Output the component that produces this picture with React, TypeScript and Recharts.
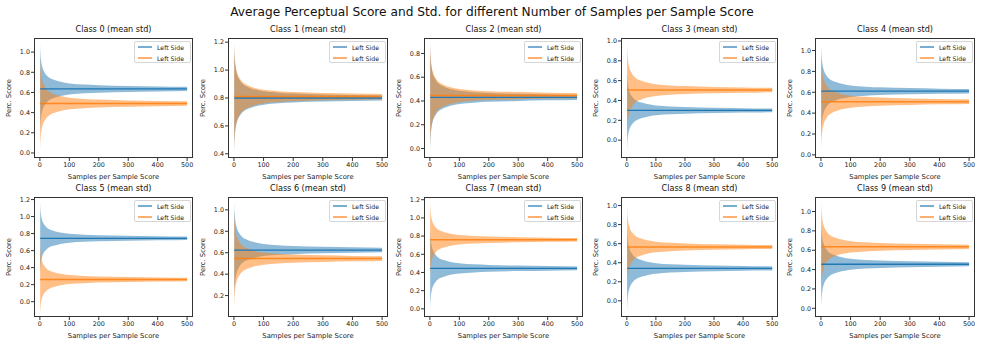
import { ComposedChart, Area, Line, XAxis, YAxis } from 'recharts';

// number of samples used per sample score (x positions of the readings)
const sampleCounts = [1, 2, 3, 5, 8, 12, 18, 25, 35, 50, 70, 100, 150, 200, 300, 400, 500];
// relative half-width of the std band (1 = width at the first sample)
const spreadProfile = [1.0, 0.82, 0.72, 0.6, 0.5, 0.42, 0.35, 0.29, 0.24, 0.2, 0.16, 0.125, 0.1, 0.085, 0.068, 0.056, 0.048];

const classTitles = [
  'Class 0 (mean std)', 'Class 1 (mean std)', 'Class 2 (mean std)', 'Class 3 (mean std)', 'Class 4 (mean std)',
  'Class 5 (mean std)', 'Class 6 (mean std)', 'Class 7 (mean std)', 'Class 8 (mean std)', 'Class 9 (mean std)',
];
const blueMeans = [0.635, 0.80, 0.43, 0.30, 0.61, 0.745, 0.625, 0.445, 0.34, 0.455];
const orangeMeans = [0.49, 0.81, 0.445, 0.505, 0.51, 0.26, 0.545, 0.76, 0.565, 0.635];
const blueStdStart = [0.44, 0.38, 0.44, 0.40, 0.44, 0.42, 0.45, 0.445, 0.44, 0.45];
const orangeStdStart = [0.46, 0.39, 0.44, 0.47, 0.46, 0.42, 0.45, 0.41, 0.44, 0.47];
const seriesLabels = ['Left Side', 'Left Side'];

const yDomains: [number, number][] = [
  [-0.05, 1.14], [0.37, 1.23], [-0.08, 0.93], [-0.18, 1.03], [-0.03, 1.12],
  [-0.18, 1.23], [0.0, 1.12], [-0.09, 1.23], [-0.17, 1.09], [-0.09, 1.15],
];
const yTicks = [
  [0, 0.2, 0.4, 0.6, 0.8, 1.0],
  [0.4, 0.6, 0.8, 1.0, 1.2],
  [0, 0.2, 0.4, 0.6, 0.8],
  [0, 0.2, 0.4, 0.6, 0.8, 1.0],
  [0, 0.2, 0.4, 0.6, 0.8, 1.0],
  [0, 0.2, 0.4, 0.6, 0.8, 1.0, 1.2],
  [0.2, 0.4, 0.6, 0.8, 1.0],
  [0, 0.2, 0.4, 0.6, 0.8, 1.0, 1.2],
  [0, 0.2, 0.4, 0.6, 0.8, 1.0],
  [0, 0.2, 0.4, 0.6, 0.8, 1.0],
];
const xTicks = [0, 100, 200, 300, 400, 500];

const BLUE = '#1f77b4';
const ORANGE = '#ff7f0e';
const FONT = '"DejaVu Sans", sans-serif';

const colLefts = [34, 228, 424, 621, 815];
const colWidths = [159, 160, 159, 157, 160];
const rowTops = [38, 197];
const PLOT_H = 120;
const Y_AXIS_W = 34;
const PAD_TOP = 6;
const X_AXIS_H = 24;

function Panel({ idx }: { idx: number }) {
  const col = idx % 5;
  const row = Math.floor(idx / 5);
  const left = colLefts[col];
  const top = rowTops[row];
  const plotW = colWidths[col];

  const data = sampleCounts.map((n, i) => ({
    n,
    blueMean: blueMeans[idx],
    orangeMean: orangeMeans[idx],
    blueBand: [blueMeans[idx] - blueStdStart[idx] * spreadProfile[i], blueMeans[idx] + blueStdStart[idx] * spreadProfile[i]],
    orangeBand: [orangeMeans[idx] - orangeStdStart[idx] * spreadProfile[i], orangeMeans[idx] + orangeStdStart[idx] * spreadProfile[i]],
  }));

  const tickStyle = { fontSize: 6.4, fill: '#222', fontFamily: FONT };

  return (
    <>
      <div
        style={{
          position: 'absolute', left, top: top - 14, width: plotW, textAlign: 'center',
          fontSize: 8.1, lineHeight: '10px', color: '#111', fontFamily: FONT,
        }}
      >
        {classTitles[idx]}
      </div>
      <div style={{ position: 'absolute', left: left - Y_AXIS_W, top: top - PAD_TOP }}>
        <ComposedChart
          width={Y_AXIS_W + plotW + 4}
          height={PAD_TOP + PLOT_H + X_AXIS_H}
          data={data}
          margin={{ top: PAD_TOP, right: 4, left: 0, bottom: 0 }}
        >
          <XAxis
            type="number"
            dataKey="n"
            domain={[-20, 520]}
            ticks={xTicks}
            allowDataOverflow
            height={X_AXIS_H}
            axisLine={false}
            tickSize={3}
            tickMargin={1}
            tickLine={{ stroke: '#333' }}
            tick={tickStyle}
            label={{ value: 'Samples per Sample Score', position: 'insideBottom', offset: 3, fontSize: 6.8, fill: '#222', fontFamily: FONT }}
          />
          <YAxis
            type="number"
            domain={yDomains[idx]}
            ticks={yTicks[idx]}
            allowDataOverflow
            width={Y_AXIS_W}
            axisLine={false}
            tickSize={3}
            tickMargin={1}
            tickLine={{ stroke: '#333' }}
            tick={tickStyle}
            tickFormatter={(v: number) => v.toFixed(1)}
            label={{ value: 'Perc. Score', angle: -90, position: 'center', dx: -8, fontSize: 6.8, fill: '#222', fontFamily: FONT }}
          />
          <Area type="monotone" dataKey="blueBand" stroke="none" fill={BLUE} fillOpacity={0.5} isAnimationActive={false} />
          <Area type="monotone" dataKey="orangeBand" stroke="none" fill={ORANGE} fillOpacity={0.5} isAnimationActive={false} />
          <Line type="linear" dataKey="blueMean" stroke={BLUE} strokeWidth={1.3} dot={false} isAnimationActive={false} />
          <Line type="linear" dataKey="orangeMean" stroke={ORANGE} strokeOpacity={0.85} strokeWidth={1.5} dot={false} isAnimationActive={false} />
        </ComposedChart>
      </div>
      <div
        style={{
          position: 'absolute', left, top, width: plotW, height: PLOT_H,
          border: '1px solid #333', boxSizing: 'border-box', pointerEvents: 'none',
        }}
      />
      <div
        style={{
          position: 'absolute', left: left + plotW - 59, top: top + 3, width: 57, height: 22,
          border: '1px solid #d6d6d6', borderRadius: 2, background: 'rgba(255,255,255,0.8)',
          boxSizing: 'border-box', fontFamily: FONT, fontSize: 6.2, color: '#222',
        }}
      >
        {seriesLabels.map((label, i) => (
          <div key={i} style={{ position: 'absolute', left: 0, top: i === 0 ? 1 : 12, height: 8, display: 'flex', alignItems: 'center' }}>
            <svg width={19} height={8} style={{ marginLeft: 2 }}>
              <line x1={1} x2={15} y1={4} y2={4} stroke={i === 0 ? BLUE : '#ffb070'} strokeWidth={i === 0 ? 1.2 : 2} />
            </svg>
            <span style={{ marginLeft: 1, whiteSpace: 'nowrap' }}>{label}</span>
          </div>
        ))}
      </div>
    </>
  );
}

export default function App() {
  return (
    <div style={{ position: 'absolute', left: 0, top: 0, width: 984, height: 340, background: '#fff', overflow: 'hidden' }}>
      <div
        style={{
          position: 'absolute', left: 0, top: 4, width: 984, textAlign: 'center',
          fontSize: 12.2, lineHeight: '16px', color: '#111', fontFamily: FONT,
        }}
      >
        Average Perceptual Score and Std. for different Number of Samples per Sample Score
      </div>
      {classTitles.map((_, idx) => (
        <Panel key={idx} idx={idx} />
      ))}
    </div>
  );
}
